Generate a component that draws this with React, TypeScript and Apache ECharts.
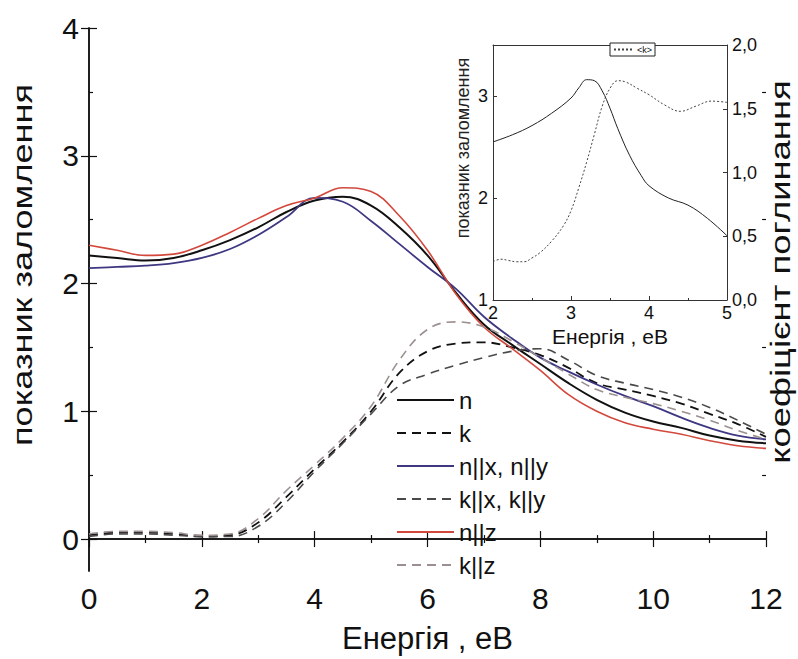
import React, { useEffect, useRef } from "react";
import * as echarts from "echarts";

// Main chart: energy grid (eV)
const ENERGY = [0, 0.5, 1, 1.5, 2, 2.5, 3, 3.5, 4, 4.5, 5, 5.5, 6, 6.5, 7, 7.5, 8, 8.5, 9, 9.5, 10, 10.5, 11, 11.5, 12];
const N_AVG = [2.22, 2.2, 2.18, 2.2, 2.26, 2.34, 2.44, 2.56, 2.65, 2.68, 2.61, 2.44, 2.22, 1.93, 1.68, 1.52, 1.37, 1.22, 1.09, 0.99, 0.92, 0.87, 0.81, 0.77, 0.75];
const K_AVG = [0.03, 0.05, 0.05, 0.04, 0.02, 0.03, 0.13, 0.33, 0.55, 0.76, 1.0, 1.3, 1.47, 1.53, 1.54, 1.5, 1.44, 1.34, 1.22, 1.17, 1.12, 1.06, 0.98, 0.9, 0.8];
const N_XY = [2.12, 2.13, 2.14, 2.16, 2.2, 2.27, 2.38, 2.52, 2.67, 2.64, 2.49, 2.31, 2.13, 1.96, 1.74, 1.57, 1.42, 1.31, 1.21, 1.12, 1.04, 0.95, 0.87, 0.81, 0.78];
const K_XY = [0.02, 0.04, 0.04, 0.03, 0.02, 0.02, 0.1, 0.29, 0.53, 0.75, 0.98, 1.2, 1.29, 1.36, 1.42, 1.47, 1.49, 1.4, 1.28, 1.22, 1.17, 1.11, 1.03, 0.93, 0.82];
const N_Z = [2.3, 2.26, 2.22, 2.23, 2.3, 2.4, 2.51, 2.61, 2.67, 2.75, 2.72, 2.53, 2.26, 1.92, 1.66, 1.49, 1.32, 1.13, 1.0, 0.91, 0.86, 0.82, 0.77, 0.73, 0.71];
const K_Z = [0.04, 0.06, 0.06, 0.05, 0.03, 0.04, 0.16, 0.38, 0.58, 0.79, 1.04, 1.4, 1.64, 1.7, 1.66, 1.55, 1.42, 1.29, 1.17, 1.11, 1.06, 1.0, 0.93, 0.85, 0.78];

const SERIES_NAMES = ["n", "k", "n||x, n||y", "k||x, k||y", "n||z", "k||z"];

// Inset
const INSET_E_N = [2.0, 2.25, 2.5, 2.75, 3.0, 3.1, 3.2, 3.3, 3.4, 3.5, 3.6, 3.75, 3.9, 4.0, 4.25, 4.5, 4.75, 5.0];
const INSET_N = [2.55, 2.62, 2.71, 2.83, 2.98, 3.08, 3.16, 3.15, 3.05, 2.88, 2.68, 2.42, 2.22, 2.12, 2.0, 1.93, 1.8, 1.63];
const INSET_E_K = [2.0, 2.1, 2.2, 2.3, 2.4, 2.5, 2.6, 2.75, 2.9, 3.0, 3.1, 3.2, 3.3, 3.4, 3.5, 3.6, 3.7, 3.85, 4.0, 4.2, 4.4, 4.6, 4.8, 5.0];
const INSET_K = [0.3, 0.32, 0.31, 0.3, 0.3, 0.33, 0.37, 0.46, 0.58, 0.7, 0.88, 1.08, 1.3, 1.52, 1.66, 1.72, 1.71, 1.66, 1.61, 1.53, 1.48, 1.52, 1.56, 1.55];

const MAIN_Y_MAJOR = [0, 1, 2, 3, 4];
const MAIN_Y_MINOR = [0.5, 1.5, 2.5, 3.5];
const INSET_Y_LEFT = [1, 2, 3];

const FONT = "'Liberation Sans', Arial, sans-serif";
const zip = (xs: number[], ys: number[]) => xs.map((x, i) => [x, ys[i]]);

export default function App() {
  const ref = useRef<HTMLDivElement>(null);
  useEffect(() => {
    if (!ref.current) return;
    const chart = echarts.init(ref.current, null, { renderer: "svg" });
    const axisLine = { show: true, lineStyle: { color: "#111", width: 1.5 } };
    const tickStyle = { color: "#111", width: 1.2 };
    const lbl = { color: "#111", fontFamily: FONT };

    const mainLine = (name: string, data: number[], color: string, dashed: boolean, width = 1.6) => ({
      name,
      type: "line",
      xAxisIndex: 0,
      yAxisIndex: 0,
      data: zip(ENERGY, data),
      smooth: 0.4,
      symbol: "none",
      lineStyle: { color, width, type: dashed ? [9, 6] : "solid" },
      itemStyle: { color },
    });

    const option: any = {
      animation: false,
      backgroundColor: "#fff",
      textStyle: { fontFamily: FONT },
      grid: [
        { left: 89, right: 32, top: 28, bottom: 86 },
        { left: 493, right: 71, top: 45, bottom: 359, show: true, backgroundColor: "#fff", borderWidth: 0 },
      ],
      xAxis: [
        {
          gridIndex: 0, type: "value", position: "bottom", min: 0, max: 12, interval: 2,
          axisLine, splitLine: { show: false },
          axisTick: { inside: true, length: 8, lineStyle: tickStyle },
          minorTick: { show: true, splitNumber: 2, length: 4, lineStyle: tickStyle },
          axisLabel: { ...lbl, fontSize: 30, margin: 12 },
          name: "Енергія , еВ", nameLocation: "middle", nameGap: 52,
          nameTextStyle: { ...lbl, fontSize: 31 },
        },
        {
          gridIndex: 0, type: "value", position: "top", min: 0, max: 12, interval: 2,
          axisLine, splitLine: { show: false },
          axisTick: { inside: true, length: 8, lineStyle: tickStyle },
          minorTick: { show: true, splitNumber: 2, length: 4, lineStyle: tickStyle },
          axisLabel: { show: false },
        },
        {
          gridIndex: 1, type: "value", position: "bottom", min: 2, max: 5, interval: 1,
          axisLine: { show: true, lineStyle: { color: "#333", width: 1 } }, splitLine: { show: false },
          axisTick: { inside: true, length: 4, lineStyle: { color: "#333", width: 1 } },
          minorTick: { show: true, splitNumber: 2, length: 2, lineStyle: { color: "#333", width: 1 } },
          axisLabel: { ...lbl, fontSize: 18, margin: 4 },
          name: "Енергія , еВ", nameLocation: "middle", nameGap: 26,
          nameTextStyle: { ...lbl, fontSize: 21 },
        },
        {
          gridIndex: 1, type: "value", position: "top", min: 2, max: 5, interval: 1,
          axisLine: { show: true, lineStyle: { color: "#333", width: 1 } }, splitLine: { show: false },
          axisTick: { show: false }, axisLabel: { show: false },
        },
      ],
      yAxis: [
        {
          gridIndex: 0, type: "value", position: "left", min: -0.25, max: 4,
          axisLine, splitLine: { show: false },
          axisTick: { inside: true, length: 8, lineStyle: tickStyle, customValues: MAIN_Y_MAJOR },
          axisLabel: { ...lbl, fontSize: 30, margin: 10, customValues: MAIN_Y_MAJOR },
        },
        {
          gridIndex: 0, type: "value", position: "right", min: -0.25, max: 4,
          axisLine, splitLine: { show: false },
          axisTick: { inside: true, length: 8, lineStyle: tickStyle, customValues: MAIN_Y_MAJOR },
          axisLabel: { show: false },
        },
        {
          gridIndex: 0, type: "value", position: "left", min: -0.25, max: 4,
          axisLine: { show: false }, splitLine: { show: false },
          axisTick: { inside: true, length: 4, lineStyle: tickStyle, customValues: MAIN_Y_MINOR },
          axisLabel: { show: false },
        },
        {
          gridIndex: 0, type: "value", position: "right", min: -0.25, max: 4,
          axisLine: { show: false }, splitLine: { show: false },
          axisTick: { inside: true, length: 4, lineStyle: tickStyle, customValues: MAIN_Y_MINOR },
          axisLabel: { show: false },
        },
        {
          gridIndex: 1, type: "value", position: "left", min: 1, max: 3.5,
          axisLine: { show: true, lineStyle: { color: "#333", width: 1 } }, splitLine: { show: false },
          axisTick: { inside: true, length: 4, lineStyle: { color: "#333", width: 1 }, customValues: INSET_Y_LEFT },
          axisLabel: { ...lbl, fontSize: 18, margin: 5, customValues: INSET_Y_LEFT },
        },
        {
          gridIndex: 1, type: "value", position: "right", min: 0, max: 2, interval: 0.5,
          axisLine: { show: true, lineStyle: { color: "#333", width: 1 } }, splitLine: { show: false },
          axisTick: { inside: true, length: 4, lineStyle: { color: "#333", width: 1 } },
          axisLabel: { ...lbl, fontSize: 18, margin: 5, formatter: (v: number) => v.toFixed(1).replace(".", ",") },
        },
      ],
      legend: [
        {
          data: SERIES_NAMES,
          orient: "vertical",
          left: 396,
          top: 388,
          padding: 0,
          itemWidth: 57,
          itemHeight: 12,
          itemGap: 9,
          itemTextGap: 9,
          textStyle: { ...lbl, fontSize: 24, lineHeight: 20 },
          itemStyle: { opacity: 0 },
        },
        {
          data: ["<k>"],
          left: 610,
          top: 43,
          padding: [2, 3],
          itemWidth: 18,
          itemHeight: 6,
          itemTextGap: 4,
          borderColor: "#222",
          borderWidth: 1,
          backgroundColor: "#fff",
          textStyle: { ...lbl, fontSize: 9 },
          itemStyle: { opacity: 0 },
        },
      ],
      graphic: [
        {
          type: "text", x: 22, y: 265, rotation: Math.PI / 2, scaleX: 1.29,
          style: { text: "показник заломлення", fontSize: 28, fontFamily: FONT, fill: "#111", align: "center", verticalAlign: "middle" },
        },
        {
          type: "text", x: 781, y: 272, rotation: Math.PI / 2, scaleX: 1.3,
          style: { text: "коефіцієнт поглинання", fontSize: 28, fontFamily: FONT, fill: "#111", align: "center", verticalAlign: "middle" },
        },
        {
          type: "text", x: 463, y: 148, rotation: Math.PI / 2,
          style: { text: "показник заломлення", fontSize: 18, fontFamily: FONT, fill: "#222", align: "center", verticalAlign: "middle" },
        },
      ],
      series: [
        mainLine("n", N_AVG, "#111111", false, 2),
        mainLine("k", K_AVG, "#111111", true, 1.8),
        mainLine("n||x, n||y", N_XY, "#3e3782", false, 1.8),
        mainLine("k||x, k||y", K_XY, "#4a4a4a", true, 1.6),
        mainLine("n||z", N_Z, "#d2483c", false, 1.6),
        mainLine("k||z", K_Z, "#9c8f8f", true, 1.6),
        {
          name: "n_inset", type: "line", xAxisIndex: 2, yAxisIndex: 4,
          data: zip(INSET_E_N, INSET_N), smooth: 0.4, symbol: "none",
          lineStyle: { color: "#222", width: 1 },
        },
        {
          name: "<k>", type: "line", xAxisIndex: 2, yAxisIndex: 5,
          data: zip(INSET_E_K, INSET_K), smooth: 0.4, symbol: "none",
          lineStyle: { color: "#444", width: 1, type: [2, 2] },
          itemStyle: { color: "#444" },
        },
      ],
    };
    chart.setOption(option);
    return () => chart.dispose();
  }, []);
  return <div ref={ref} style={{ position: "absolute", left: 0, top: 0, width: 798, height: 659 }} />;
}
